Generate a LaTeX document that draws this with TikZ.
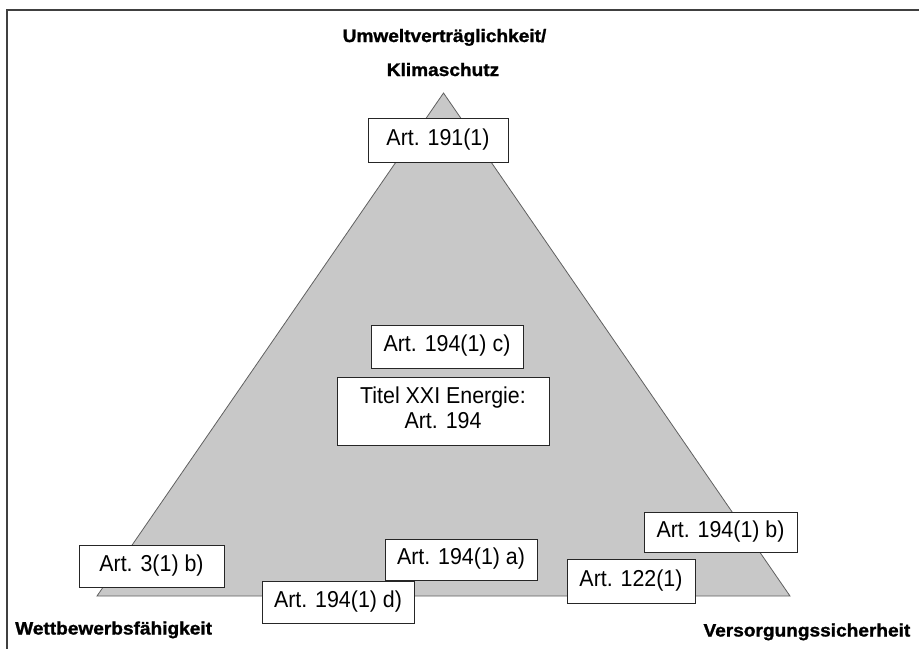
\documentclass[tikz,border=0pt]{standalone}
\usepackage{fontspec}
\usepackage{graphicx}
\setmainfont{Liberation Sans}
\newfontfamily\heavyfont[FakeBold=1.3]{Liberation Sans Bold}
\definecolor{trifill}{RGB}{200,200,200}
\definecolor{triline}{RGB}{96,96,96}
\definecolor{framecol}{RGB}{64,64,64}
\tikzset{
  artbox/.style={draw=black!85, line width=0.8pt, fill=white, inner sep=0pt,
    font=\fontsize{23}{25}\selectfont, align=center},
  pillar/.style={inner sep=0pt, font=\fontsize{18}{20}\selectfont\heavyfont}
}
\newcommand{\wide}[1]{\scalebox{1.06}[1]{#1}}
\newcommand{\boxtxt}[1]{\scalebox{0.93}[1]{\begin{tabular}{@{}c@{}}#1\end{tabular}}}
\begin{document}
\begin{tikzpicture}[x=1pt,y=-1pt]
\useasboundingbox (0,0) rectangle (919,649);
% frame (top and left edges)
\draw[framecol, line width=2pt] (919,10) -- (7,10) -- (7,649);
% triangle
\coordinate (apex) at (443.5,93);
\coordinate (bl) at (97,596);
\coordinate (br) at (790,596);
\draw[triline, fill=trifill, line width=0.8pt] (apex) -- (br) -- (bl) -- cycle;
% pillar labels
\node[pillar, anchor=base] (umw) at (444.5,42) {\wide{Umweltverträglichkeit/}};
\node[pillar, anchor=base] (klima) at (443,76) {\wide{Klimaschutz}};
\node[pillar, anchor=base west] (wett) at (15,634.5) {\wide{Wettbewerbsfähigkeit}};
\node[pillar, anchor=base east] (vers) at (910.5,636.5) {\wide{Versorgungssicherheit}};
% article boxes
\node[artbox, minimum width=140, minimum height=44] (a191) at (438,140) {\boxtxt{Art. 191(1)}};
\node[artbox, minimum width=152, minimum height=43] (a194c) at (447,346.5) {\boxtxt{Art. 194(1) c)}};
\node[artbox, minimum width=212, minimum height=68] (titel) at (443,411) {\boxtxt{Titel XXI Energie:\\Art. 194}};
\node[artbox, minimum width=145, minimum height=42] (a3b) at (151.5,566) {\boxtxt{Art. 3(1) b)}};
\node[artbox, minimum width=152, minimum height=41] (a194a) at (461,559.5) {\boxtxt{Art. 194(1) a)}};
\node[artbox, minimum width=152, minimum height=42] (a194d) at (338,602) {\boxtxt{Art. 194(1) d)}};
\node[artbox, minimum width=128, minimum height=44] (a122) at (631,581) {\boxtxt{Art. 122(1)}};
\node[artbox, minimum width=153, minimum height=40] (a194b) at (720.5,532) {\boxtxt{Art. 194(1) b)}};
\end{tikzpicture}
\end{document}
